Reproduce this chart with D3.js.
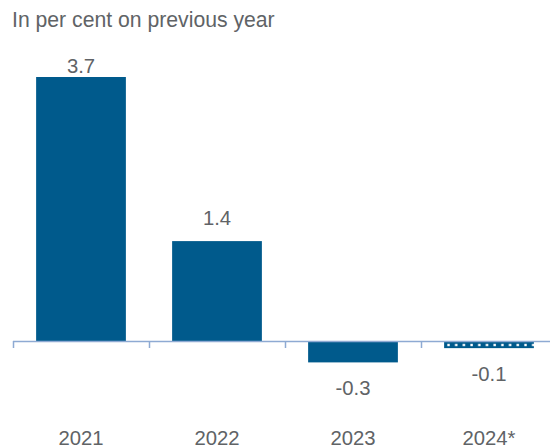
<!DOCTYPE html>
<html>
<head>
<meta charset="utf-8">
<script src="https://cdn.jsdelivr.net/npm/d3@7"></script>
<style>
  html, body { margin: 0; padding: 0; background: #fff; }
  svg { display: block; font-family: Arial, "Liberation Sans", sans-serif; }
</style>
</head>
<body>
<svg id="chart" width="550" height="448"></svg>
<script>
// GDP growth, per cent on previous year (2024 is a forecast)
const years = ["2021", "2022", "2023", "2024*"];
const growth = [3.7, 1.4, -0.3, -0.1];
const forecast = [false, false, false, true];
const valueLabels = ["3.7", "1.4", "-0.3", "-0.1"];
const subtitle = "In per cent on previous year";

const svg = d3.select("#chart");
const barColor = "#005a8c";
const textColor = "#606366";
const axisColor = "#8eaad3";
const fontSize = 20.3;

// Pattern for the forecast bar: blue fill with a row of small white dots
const defs = svg.append("defs");
const pat = defs.append("pattern")
  .attr("id", "forecastDots")
  .attr("patternUnits", "userSpaceOnUse")
  .attr("width", 7.7).attr("height", 8)
  .attr("x", 446).attr("y", 341);
pat.append("rect").attr("width", 7.7).attr("height", 8).attr("fill", barColor);
pat.append("rect").attr("x", 1.3).attr("y", 2.8).attr("width", 2.4).attr("height", 2.4).attr("fill", "#ffffff");

const x = d3.scaleBand()
  .domain(years)
  .range([13, 557])
  .paddingInner(0.34)
  .paddingOuter(0.17);

const y = d3.scaleLinear()
  .domain([-0.3, 3.7])
  .range([362.4, 77]);

// Highest baseline a value label may sit at, so labels stay inside the plot
const labelCeiling = 73;

svg.append("text")
  .attr("x", 12).attr("y", 27)
  .attr("fill", textColor)
  .attr("font-size", 21.2)
  .text(subtitle);

const data = years.map((yr, i) => ({ yr, v: growth[i], f: forecast[i], label: valueLabels[i] }));

svg.selectAll("rect.bar")
  .data(data)
  .join("rect")
  .attr("class", "bar")
  .attr("x", d => x(d.yr))
  .attr("width", x.bandwidth())
  .attr("y", d => y(Math.max(0, d.v)))
  .attr("height", d => Math.abs(y(d.v) - y(0)))
  .attr("fill", d => d.f ? "url(#forecastDots)" : barColor);

// Zero line with tick marks between categories
const step = x.step();
svg.append("line")
  .attr("x1", 13).attr("x2", 550)
  .attr("y1", y(0) + 0.5).attr("y2", y(0) + 0.5)
  .attr("stroke", axisColor).attr("stroke-width", 1.5);
svg.selectAll("line.tick")
  .data(years)
  .join("line")
  .attr("class", "tick")
  .attr("x1", d => x(d) - x.paddingOuter() * step + 0.5)
  .attr("x2", d => x(d) - x.paddingOuter() * step + 0.5)
  .attr("y1", y(0)).attr("y2", y(0) + 7)
  .attr("stroke", axisColor).attr("stroke-width", 1.5);

// Value labels above positive bars, below negative ones
svg.selectAll("text.val")
  .data(data)
  .join("text")
  .attr("class", "val")
  .attr("x", d => x(d.yr) + x.bandwidth() / 2)
  .attr("y", d => d.v >= 0 ? Math.max(y(d.v) - 16, labelCeiling) : y(d.v) + 33)
  .attr("text-anchor", "middle")
  .attr("fill", textColor)
  .attr("font-size", fontSize)
  .text(d => d.label);

// Category labels
svg.selectAll("text.cat")
  .data(years)
  .join("text")
  .attr("class", "cat")
  .attr("x", d => x(d) + x.bandwidth() / 2)
  .attr("y", 445)
  .attr("text-anchor", "middle")
  .attr("fill", textColor)
  .attr("font-size", fontSize)
  .text(d => d);
</script>
</body>
</html>
